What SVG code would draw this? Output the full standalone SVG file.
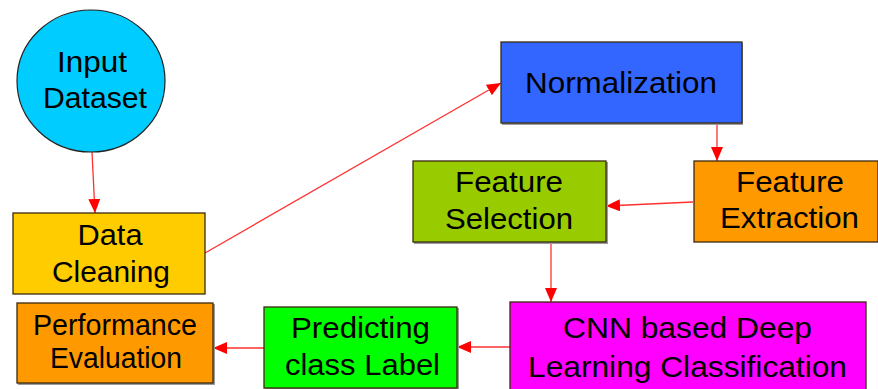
<svg xmlns="http://www.w3.org/2000/svg" width="878" height="389" viewBox="0 0 878 389">
<style>
.box{stroke:#3a2a10;stroke-width:1.3}
.sh{fill:#9a9a9a}
.t{font-family:"Liberation Sans",Arial,sans-serif;font-size:30px;fill:#000;text-anchor:middle}
.b{font-size:29px}
.c{stroke:#ff3030;stroke-width:1.3;fill:none}
</style>
<defs>
<marker id="ah" viewBox="0 0 14 12" refX="14" refY="6" markerWidth="14" markerHeight="12" markerUnits="userSpaceOnUse" orient="auto">
<path d="M0,0 L14,6 L0,12 Z" fill="#ff0000"/>
</marker>
</defs>
<rect width="878" height="389" fill="#fff"/>
<g id="connectors">
<line class="c" x1="92" y1="152" x2="95" y2="213" marker-end="url(#ah)"/>
<line class="c" x1="205" y1="253" x2="501" y2="83" marker-end="url(#ah)"/>
<line class="c" x1="717" y1="111" x2="717" y2="161" marker-end="url(#ah)"/>
<line class="c" x1="693" y1="202" x2="606" y2="206" marker-end="url(#ah)"/>
<line class="c" x1="551" y1="242" x2="551" y2="302" marker-end="url(#ah)"/>
<line class="c" x1="512" y1="347" x2="457" y2="347" marker-end="url(#ah)"/>
<line class="c" x1="264" y1="348" x2="213" y2="348" marker-end="url(#ah)"/>
</g>
<g id="input-dataset">
<ellipse cx="91" cy="81" rx="74" ry="71" fill="#00ccff" stroke="#222" stroke-width="1.2"/>
<text class="t" x="92" y="72" textLength="70" lengthAdjust="spacingAndGlyphs">Input</text>
<text class="t" x="95" y="108" textLength="104" lengthAdjust="spacingAndGlyphs">Dataset</text>
</g>
<g id="data-cleaning">
<rect class="box" x="13" y="213" width="192" height="81" fill="#ffcc00"/>
<text class="t" x="110" y="245" textLength="65" lengthAdjust="spacingAndGlyphs">Data</text>
<text class="t" x="111" y="282" textLength="118" lengthAdjust="spacingAndGlyphs">Cleaning</text>
</g>
<g id="normalization">
<rect class="sh" x="502" y="43" width="241" height="82"/>
<rect class="box" x="501" y="42" width="241" height="81" fill="#3366ff"/>
<text class="t" x="621" y="93" textLength="192" lengthAdjust="spacingAndGlyphs">Normalization</text>
</g>
<g id="feature-extraction">
<rect class="box" x="694" y="161" width="184" height="81" fill="#ff9900"/>
<text class="t" x="790" y="192" textLength="108" lengthAdjust="spacingAndGlyphs">Feature</text>
<text class="t" x="789.5" y="228" textLength="139" lengthAdjust="spacingAndGlyphs">Extraction</text>
</g>
<g id="feature-selection">
<rect class="sh" x="414" y="162" width="194" height="82"/>
<rect class="box" x="413" y="161" width="193" height="81" fill="#99cc00"/>
<text class="t" x="509" y="192" textLength="108" lengthAdjust="spacingAndGlyphs">Feature</text>
<text class="t" x="509" y="229" textLength="128" lengthAdjust="spacingAndGlyphs">Selection</text>
</g>
<g id="cnn-classification">
<rect class="box" x="510" y="302" width="356" height="90" fill="#ff00ff" stroke="#8a2a8a"/>
<text class="t b" x="687.5" y="338" textLength="249" lengthAdjust="spacingAndGlyphs">CNN based Deep</text>
<text class="t b" x="687.5" y="377" textLength="319" lengthAdjust="spacingAndGlyphs">Learning Classification</text>
</g>
<g id="predicting-class-label">
<rect class="sh" x="265" y="308" width="194" height="82"/>
<rect class="box" x="264" y="307" width="193" height="81" fill="#00ff00"/>
<text class="t b" x="360.5" y="338" textLength="139" lengthAdjust="spacingAndGlyphs">Predicting</text>
<text class="t b" x="362.5" y="375" textLength="155" lengthAdjust="spacingAndGlyphs">class Label</text>
</g>
<g id="performance-evaluation">
<rect class="sh" x="18" y="304" width="197" height="81"/>
<rect class="box" x="17" y="303" width="196" height="80" fill="#ff9900"/>
<text class="t b" x="115" y="335" textLength="164" lengthAdjust="spacingAndGlyphs">Performance</text>
<text class="t b" x="116" y="368" textLength="132" lengthAdjust="spacingAndGlyphs">Evaluation</text>
</g>
</svg>
